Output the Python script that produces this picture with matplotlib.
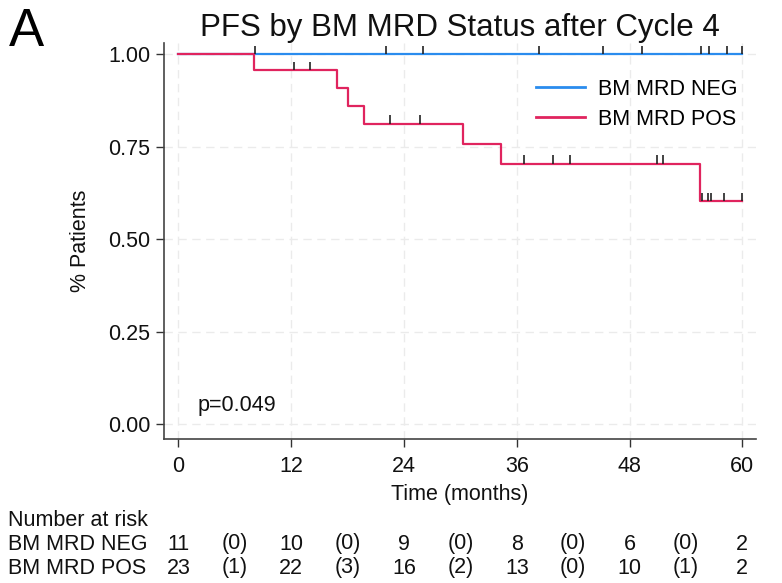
import numpy as np
import matplotlib
matplotlib.use("Agg")
import matplotlib.pyplot as plt
from matplotlib import transforms

plt.rcParams['font.family'] = ['Liberation Sans', 'DejaVu Sans']

# ---------------- data ----------------
title = "PFS by BM MRD Status after Cycle 4"
groups = ["BM MRD NEG", "BM MRD POS"]
colors = ["#2a8cee", "#e0245e"]

# NEG: no events, survival stays 1.0
neg_event_times = [0.0]
neg_surv = [1.0]
neg_censor_times = [8.2, 22.1, 26.0, 38.4, 45.2, 49.3, 55.6, 56.4, 58.4, 60.0]

# POS: step times and survival after each step
pos_event_times = [0.0, 8.0, 16.9, 18.0, 19.7, 30.3, 34.3, 55.5]
pos_surv = [1.0, 0.957, 0.909, 0.861, 0.813, 0.759, 0.705, 0.604]
pos_censor_times = [12.3, 14.0, 22.5, 25.7, 36.8, 39.8, 41.7, 50.9, 51.6,
                    55.7, 56.3, 56.7, 58.0, 60.0]

end_time = 60.0
x_ticks = [0, 12, 24, 36, 48, 60]
y_ticks = [0.00, 0.25, 0.50, 0.75, 1.00]
y_tick_labels = ["0.00", "0.25", "0.50", "0.75", "1.00"]

risk_times = [0, 6, 12, 18, 24, 30, 36, 42, 48, 54, 60]
neg_risk = ["11", "(0)", "10", "(0)", "9", "(0)", "8", "(0)", "6", "(0)", "2"]
pos_risk = ["23", "(1)", "22", "(3)", "16", "(2)", "13", "(0)", "10", "(1)", "2"]
p_text = "p=0.049"

# ---------------- figure ----------------
W, H = 782, 583
fig = plt.figure(figsize=(W / 100, H / 100), dpi=100)
ax = fig.add_axes([164.3 / W, 1 - 439.3 / H, (756 - 164.3) / W, (439.3 - 43.3) / H])

fs = 15.5

ax.set_xlim(-1.5, 61.45)
ax.set_ylim(-0.04, 1.03)

for x in x_ticks:
    ax.axvline(x, color="#ebebeb", lw=1.0, ls=(0, (6, 4)), zorder=0)
for y in y_ticks:
    ax.axhline(y, color="#ebebeb", lw=1.0, ls=(0, (6, 4)), zorder=0)


def step_series(times, surv):
    xs = list(times) + [end_time]
    ys = list(surv) + [surv[-1]]
    return xs, ys


def surv_at(times, surv, t):
    idx = np.searchsorted(np.array(times), t, side="right") - 1
    return surv[idx]


series = [
    (neg_event_times, neg_surv, neg_censor_times),
    (pos_event_times, pos_surv, pos_censor_times),
]
for (times, surv, cens), col, lab in zip(series, colors, groups):
    xs, ys = step_series(times, surv)
    ax.plot(xs, ys, drawstyle="steps-post", color=col, lw=1.6, label=lab, zorder=3)
    levels = [surv_at(times, surv, t) for t in cens]
    ax.vlines(cens, levels, np.array(levels) + 0.022, color="#222222", lw=1.2, zorder=4)

ax.set_xticks(x_ticks)
ax.set_yticks(y_ticks)
ax.set_yticklabels(y_tick_labels)
ax.tick_params(axis="both", labelsize=fs, length=6, width=1.0, color="#333333",
               labelcolor="#111111", pad=4)
ax.tick_params(axis="x", pad=6)
for s in ["top", "right"]:
    ax.spines[s].set_visible(False)
for s in ["left", "bottom"]:
    ax.spines[s].set_color("#444444")
    ax.spines[s].set_linewidth(1.2)

ax.set_xlabel("Time (months)", fontsize=fs, color="#111111", labelpad=5)
ax.set_ylabel("% Patients", fontsize=fs, color="#111111", labelpad=12)
ax.set_title(title, fontsize=22.5, color="#111111", pad=3)

leg = ax.legend(loc="upper left", bbox_to_anchor=(0.613, 0.932), frameon=False,
                fontsize=fs, handlelength=2.3, handletextpad=0.6, labelspacing=0.42,
                borderaxespad=0)
for line in leg.get_lines():
    line.set_linewidth(2.0)

ax.text(2.0, 0.05, p_text, fontsize=fs, color="#111111", va="center", ha="left")

fig.text(9 / W, 1 - 32 / H, "A", fontsize=38, color="#000000", va="center", ha="left")

# number at risk table
trans = transforms.blended_transform_factory(ax.transData, fig.transFigure)
y_hdr = 1 - 520 / H
y_neg = 1 - 544 / H
y_pos = 1 - 568 / H
fig.text(8 / W, y_hdr, "Number at risk", fontsize=fs, va="center", ha="left", color="#111111")
fig.text(8 / W, y_neg, groups[0], fontsize=fs, va="center", ha="left", color="#111111")
fig.text(8 / W, y_pos, groups[1], fontsize=fs, va="center", ha="left", color="#111111")
for t, a, b in zip(risk_times, neg_risk, pos_risk):
    fig.text(t, y_neg, a, transform=trans, fontsize=fs, va="center", ha="center", color="#111111")
    fig.text(t, y_pos, b, transform=trans, fontsize=fs, va="center", ha="center", color="#111111")

fig.savefig("out.png", dpi=100)
